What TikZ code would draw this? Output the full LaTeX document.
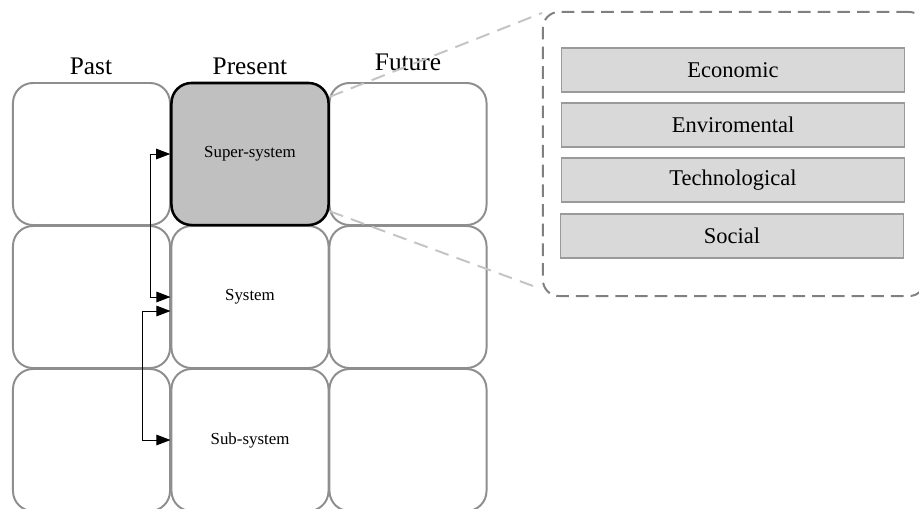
\documentclass[tikz,border=0pt]{standalone}
\usepackage{fontspec}
\setmainfont{Liberation Serif}
\usetikzlibrary{arrows.meta}
\definecolor{cellgray}{HTML}{8E8E8E}
\definecolor{supergray}{HTML}{C0C0C0}
\definecolor{boxgray}{HTML}{D9D9D9}
\definecolor{boxline}{HTML}{9A9A9A}
\definecolor{zoomline}{HTML}{C4C4C4}
\begin{document}
\begin{tikzpicture}[x=0.025cm, y=-0.025cm,
    cell/.style={draw=cellgray, line width=1.4pt, rounded corners=0.5cm,
      minimum width=3.925cm, minimum height=3.55cm, inner sep=0pt,
      font=\fontsize{12}{14}\selectfont},
    focus/.style={cell, draw=black, line width=1.8pt, fill=supergray},
    head/.style={font=\fontsize{18}{21}\selectfont},
    factor/.style={draw=boxline, line width=1.1pt, fill=boxgray,
      minimum width=8.575cm, minimum height=1.1cm, inner sep=0pt,
      font=\fontsize{16}{19}\selectfont},
    panelbox/.style={draw=gray, line width=1.4pt, dash pattern=on 9pt off 5pt,
      rounded corners=0.4cm, minimum width=9.55cm, minimum height=7.1cm},
    link/.style={line width=0.7pt, {Triangle[length=10pt,width=7.5pt]}-{Triangle[length=10pt,width=7.5pt]}},
    zoomto/.style={draw=zoomline, line width=1.4pt, dash pattern=on 10pt off 6pt}]
  \useasboundingbox (0,0) rectangle (919,508);
  % time headings
  \node[head] (past) at (91,66) {Past};
  \node[head] (present) at (250,66) {Present};
  \node[head] (future) at (408,62) {Future};
  % nine screens
  \node[cell] (pastsup) at (91.5,154) {};
  \node[cell] (futsup) at (408,154) {};
  \node[cell] (pastsys) at (91.5,297) {};
  \node[cell] (sys) at (250,297) {System};
  \node[cell] (futsys) at (408,297) {};
  \node[cell] (pastsub) at (91.5,440) {};
  \node[cell] (sub) at (250,440) {Sub-system};
  \node[cell] (futsub) at (408,440) {};
  \node[focus] (sup) at (250,154) {Super-system};
  % links between levels
  \draw[link] (sup.west) -- ++(-20,0) |- (sys.west);
  \draw[link] ([yshift=-0.35cm]sys.west) -- ++(-28,0) |- (sub.west);
  % zoomed super-system
  \node[panelbox] (panel) at (734,154) {};
  \node[factor] (eco) at (733,70) {Economic};
  \node[factor] (env) at (733,125) {Enviromental};
  \node[factor] (tech) at (733,180) {Technological};
  \node[factor] (soc) at (732,236) {Social};
  \draw[zoomto] ([yshift=-0.375cm]sup.north east) -- ([yshift=-0.05cm]panel.north west);
  \draw[zoomto] ([yshift=0.375cm]sup.south east) -- ([xshift=-0.07cm,yshift=0.22cm]panel.south west);
\end{tikzpicture}
\end{document}
